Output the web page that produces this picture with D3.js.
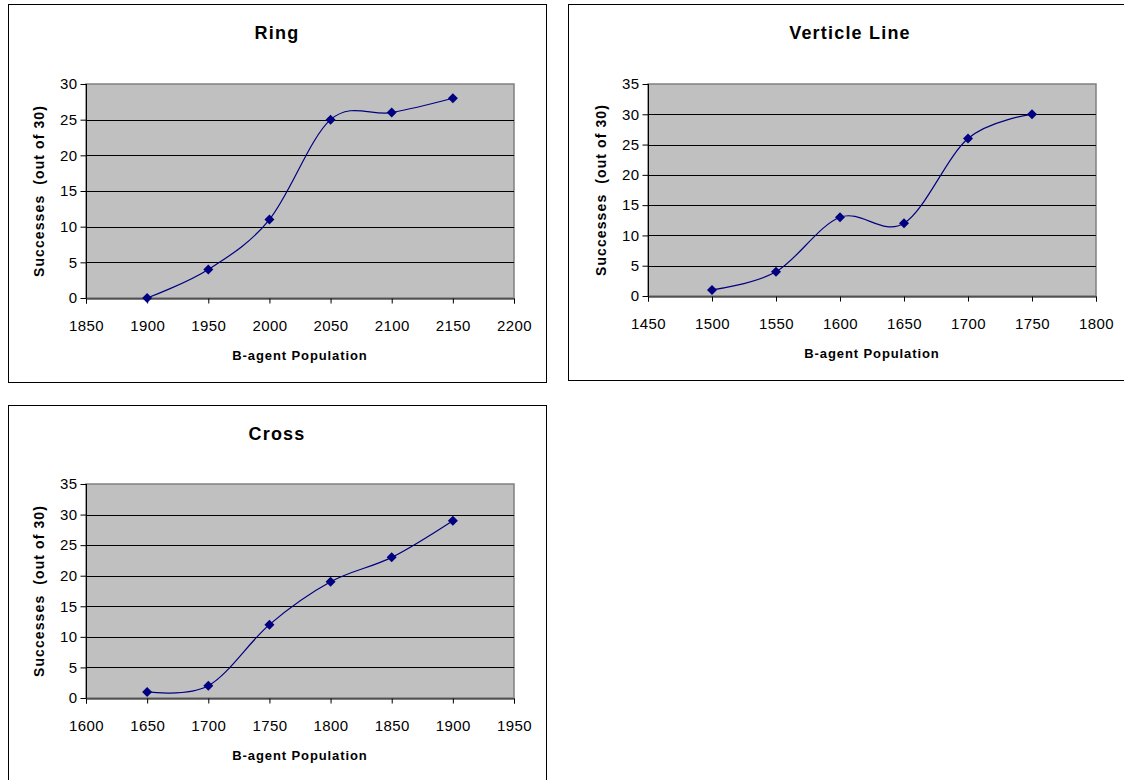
<!DOCTYPE html>
<html>
<head>
<meta charset="utf-8">
<script src="https://cdn.jsdelivr.net/npm/d3@7"></script>
<style>
  body { margin: 0; background: #fff; }
  svg { display: block; font-family: "Liberation Sans", Arial, sans-serif; }
</style>
</head>
<body>
<svg width="1124" height="780"></svg>
<script>
// data
var ringPop = [1900, 1950, 2000, 2050, 2100, 2150];
var ringSuccess = [0, 4, 11, 25, 26, 28];
var ringXTicks = [1850, 1900, 1950, 2000, 2050, 2100, 2150, 2200];
var ringYTicks = [0, 5, 10, 15, 20, 25, 30];

var linePop = [1500, 1550, 1600, 1650, 1700, 1750];
var lineSuccess = [1, 4, 13, 12, 26, 30];
var lineXTicks = [1450, 1500, 1550, 1600, 1650, 1700, 1750, 1800];
var lineYTicks = [0, 5, 10, 15, 20, 25, 30, 35];

var crossPop = [1650, 1700, 1750, 1800, 1850, 1900];
var crossSuccess = [1, 2, 12, 19, 23, 29];
var crossXTicks = [1600, 1650, 1700, 1750, 1800, 1850, 1900, 1950];
var crossYTicks = [0, 5, 10, 15, 20, 25, 30, 35];

var titles = ["Ring", "Verticle Line", "Cross"];
var xTitle = "B-agent Population";
var yTitle = "Successes  (out of 30)";

var svg = d3.select("svg");

// frame box + plot box for each chart
var charts = [
  { title: titles[0], xs: ringPop, ys: ringSuccess, xt: ringXTicks, yt: ringYTicks,
    frame: [8, 4, 538, 378], plot: [86, 84, 514, 298] },
  { title: titles[1], xs: linePop, ys: lineSuccess, xt: lineXTicks, yt: lineYTicks,
    frame: [568, 4, 564, 376], plot: [648, 84, 1096, 296] },
  { title: titles[2], xs: crossPop, ys: crossSuccess, xt: crossXTicks, yt: crossYTicks,
    frame: [8, 405, 538, 390], plot: [86, 484, 514, 698] }
];

charts.forEach(function(c) {
  var g = svg.append("g");
  var f = c.frame, p = c.plot;

  g.append("rect")
    .attr("x", f[0] + 0.5).attr("y", f[1] + 0.5)
    .attr("width", f[2]).attr("height", f[3])
    .attr("fill", "#fff").attr("stroke", "#000");

  var x = d3.scaleLinear()
    .domain(d3.extent(c.xt))
    .range([p[0], p[2]]);
  var y = d3.scaleLinear()
    .domain(d3.extent(c.yt))
    .range([p[3], p[1]]);

  g.append("rect")
    .attr("x", p[0]).attr("y", p[1])
    .attr("width", p[2] - p[0]).attr("height", p[3] - p[1])
    .attr("fill", "#c0c0c0").attr("stroke", "#808080").attr("stroke-width", 1.5);

  // horizontal gridlines
  g.append("g")
    .selectAll("line")
    .data(c.yt.slice(1, -1))
    .enter()
    .append("line")
      .attr("x1", p[0]).attr("x2", p[2])
      .attr("y1", function(d) { return Math.round(y(d)) + 0.5; })
      .attr("y2", function(d) { return Math.round(y(d)) + 0.5; })
      .attr("stroke", "#000");

  var xAxis = g.append("g")
    .attr("transform", "translate(0," + (p[3] + 0.5) + ")")
    .call(d3.axisBottom(x).tickValues(c.xt).tickFormat(d3.format("d"))
      .tickSize(5).tickSizeOuter(5).tickPadding(17));

  var yAxis = g.append("g")
    .attr("transform", "translate(" + (p[0] + 0.5) + ",0)")
    .call(d3.axisLeft(y).tickValues(c.yt).tickFormat(d3.format("d"))
      .tickSize(6).tickSizeOuter(0).tickPadding(3));

  [xAxis, yAxis].forEach(function(a) {
    a.selectAll("path, line").attr("stroke", "#000");
    a.selectAll("text")
      .attr("fill", "#000")
      .style("font-size", "15px")
      .style("letter-spacing", "0.4px");
  });
  yAxis.select(".domain").attr("d", "M0," + p[3] + "V" + p[1]);

  var line = d3.line()
    .x(function(d, i) { return x(c.xs[i]); })
    .y(function(d) { return y(d); })
    .curve(d3.curveCardinal.tension(0));

  g.append("path")
    .datum(c.ys)
    .attr("d", line)
    .attr("fill", "none")
    .attr("stroke", "#000080")
    .attr("stroke-width", 1.2);

  g.append("g")
    .selectAll("path")
    .data(c.ys)
    .enter()
    .append("path")
      .attr("d", d3.symbol().type(d3.symbolSquare).size(50))
      .attr("transform", function(d, i) {
        return "translate(" + x(c.xs[i]) + "," + y(d) + ") rotate(45)";
      })
      .attr("fill", "#000080");

  g.append("text")
    .attr("x", f[0] + f[2] / 2)
    .attr("y", f[1] + 35)
    .attr("text-anchor", "middle")
    .style("font-size", "18px")
    .style("font-weight", "bold")
    .style("letter-spacing", "1.2px")
    .text(c.title);

  g.append("text")
    .attr("x", (p[0] + p[2]) / 2)
    .attr("y", p[3] + 62)
    .attr("text-anchor", "middle")
    .style("font-size", "13px")
    .style("font-weight", "bold")
    .style("letter-spacing", "0.9px")
    .text(xTitle);

  g.append("text")
    .attr("transform", "translate(" + (p[0] - 42) + "," + ((p[1] + p[3]) / 2) + ") rotate(-90)")
    .attr("text-anchor", "middle")
    .style("font-size", "14px")
    .style("font-weight", "bold")
    .style("letter-spacing", "1.1px")
    .style("white-space", "pre")
    .text(yTitle);
});
</script>
</body>
</html>
